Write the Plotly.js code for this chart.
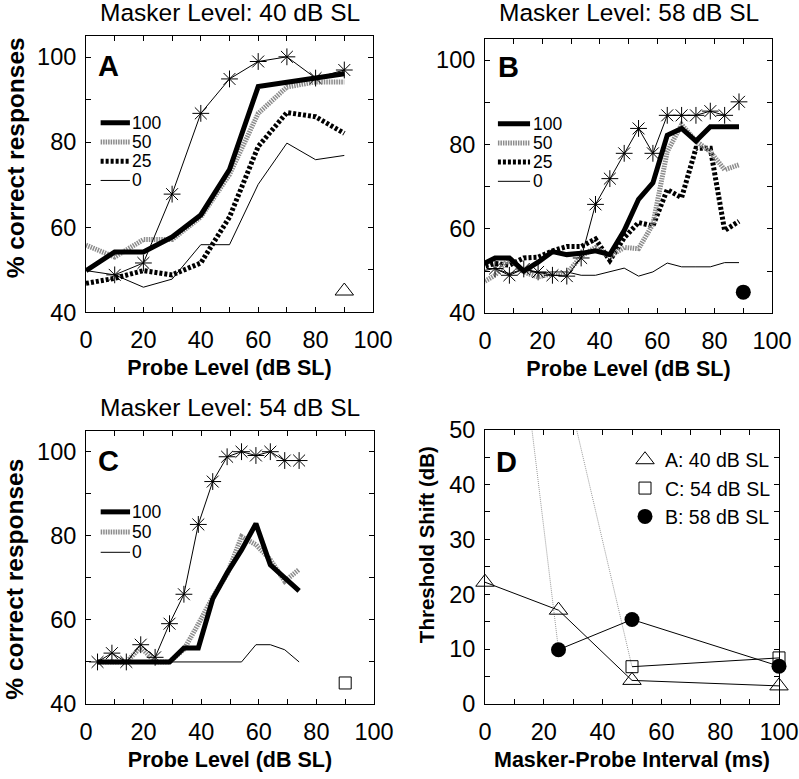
<!DOCTYPE html>
<html><head><meta charset="utf-8">
<script src="https://cdn.plot.ly/plotly-3.0.1.min.js"></script>
<style>html,body{margin:0;padding:0;background:#fff}#plot{width:799px;height:779px}</style>
</head><body><div id="plot"></div>
<script>
// ---------- DATA ----------
// Panel A (masker 40 dB SL)
const probeA   = [0,10,20,30,40,50,60,70,80,90];
const a100     = [49.8,54.2,54.2,57.7,62.9,73.6,93.1,94.2,95.1,96.1];
const a50      = [55.8,53.0,57.1,57.1,62.4,72.4,86.8,93.0,94.2,94.2];
const a25      = [46.8,48.0,49.8,48.8,51.6,62.4,79.0,87.0,86.0,82.1];
const a0       = [49.8,48.8,45.9,47.8,55.9,55.9,70.1,79.8,75.9,76.9];
const probeAstA= [10,20,30,40,50,60,70,80,90];
const aAst     = [48.8,51.6,67.8,86.8,94.9,99.0,100.1,95.1,97.0];
// Panel B (masker 58 dB SL)
const probeB   = [-1.5,3.5,8.5,13.5,18.5,23.5,28.5,33.5,38.5,43.5,48.5,53.5,58.5,63.5,68.5,73.5,78.5,83.5,88.5];
const b100     = [51.4,53.1,53.1,50.0,52.1,54.6,53.9,54.2,54.8,53.9,59.6,67.0,70.9,82.2,83.8,80.8,84.2,84.2,84.2];
const b50      = [47.0,49.0,53.1,49.8,48.6,49.4,49.4,53.5,55.6,53.5,55.6,55.3,61.1,78.3,84.7,80.8,78.3,74.0,75.2];
const b25      = [51.0,51.8,51.4,53.1,53.3,54.8,55.8,55.8,57.6,52.5,57.9,61.5,60.7,69.3,67.4,79.1,79.1,59.6,61.8];
const b0       = [50.0,50.6,49.4,50.5,49.5,49.8,49.8,49.0,49.0,49.8,50.7,48.8,49.8,51.9,51.0,51.0,51.0,52.0,52.0];
const probeAstB= [3.5,8.5,13.5,18.5,23.5,28.5,33.5,38.5,43.5,48.5,53.5,58.5,63.5,68.5,73.5,78.5,83.5,88.5];
const bAst     = [50.6,49.0,50.5,49.8,49.0,48.8,53.1,65.8,71.9,77.9,83.8,77.9,86.9,86.9,86.9,87.9,86.9,90.1];
// Panel C (masker 54 dB SL)
const probeC   = [4,9,14,19,24,29,34,39,44,49,54,59,64,69,74];
const c100     = [50,50,50,50,50,50,53.3,53.3,65.0,71.2,76.6,82.9,73.1,70.0,66.9];
const c50      = [50,50,50,53.5,50,50,53,59,65.4,70.9,79.8,77.9,74.3,69.2,72.0];
const c0       = [50,50,50,50,50,50,50,50,50,50,50,54.1,54.1,52.9,50];
const cAst     = [50.0,52.1,50.0,54.1,51.1,59.1,66.1,82.7,92.9,98.8,100,99.1,100,97.9,97.9];
// Panel identifiers (symbol placed in A, B, C)
const idX = [90];
const idY = [45];
// Panel D: threshold shift vs masker-probe interval
const intervalA = [0,25,50,100];
const shiftA    = [22.2,17.1,4.3,3.3];
const intervalB = [25,50,100];
const shiftB    = [9.9,15.4,6.9];
const intervalC = [50,100];
const shiftC    = [6.8,8.4];
// off-scale 0-ms values (dotted connectors)
const dotBx = [0,25];  const dotBy = [121,9.9];
const dotCx = [0,50];  const dotCy = [121.5,6.8];
const legendLabels = ['100','50','25','0'];
const dLegend = ['A: 40 dB SL','C: 54 dB SL','B: 58 dB SL'];

// ---------- STYLE / LAYOUT ----------
const FONT = 'Arial, "Liberation Sans", sans-serif';
const M = {l:86, r:20, t:36, b:66};
const W = 799, H = 779;
const PW = W - M.l - M.r, PH = H - M.t - M.b;
const dx = px => (px - M.l) / PW;
const dy = py => 1 - (py - M.t) / PH;

const S = {
  s100: {color:'black', width:5},
  s50:  {color:'#8c8c8c', width:5, dash:'1.5px,1px'},
  s25:  {color:'black', width:5, dash:'3px,2px'},
  s0:   {color:'black', width:1}
};
const astMarker = {symbol:'asterisk-open', size:14, color:'black', line:{color:'black', width:1}};

function line(x, y, ax, st, name) {
  return {x, y, xaxis:'x'+ax, yaxis:'y'+ax, mode:'lines', line:st, name, showlegend:false, hoverinfo:'skip'};
}
function ast(x, y, ax) {
  return {x, y, xaxis:'x'+ax, yaxis:'y'+ax, mode:'lines+markers', line:{color:'black', width:1}, marker:astMarker, showlegend:false, hoverinfo:'skip'};
}
function ident(ax, marker) {
  return {x:idX, y:idY, xaxis:'x'+ax, yaxis:'y'+ax, mode:'markers', marker, showlegend:false, cliponaxis:false, hoverinfo:'skip'};
}
const triM = {symbol:'triangle-up-open', size:16, color:'black', line:{color:'black', width:1}};
const sqM  = {symbol:'square-open', size:12, color:'black', line:{color:'black', width:1}};
const ciM  = {symbol:'circle', size:15, color:'black', line:{color:'black', width:0}};
const dotLine = {color:'#9a9a9a', width:1, dash:'1px,1px'};

const data = [
  line(probeA, a0, '', S.s0, '0'), line(probeA, a25, '', S.s25, '25'), line(probeA, a50, '', S.s50, '50'), line(probeA, a100, '', S.s100, '100'),
  ast(probeAstA, aAst, ''), ident('', triM),
  line(probeB, b0, '2', S.s0, '0'), line(probeB, b25, '2', S.s25, '25'), line(probeB, b50, '2', S.s50, '50'), line(probeB, b100, '2', S.s100, '100'),
  ast(probeAstB, bAst, '2'), ident('2', ciM),
  line(probeC, c0, '3', S.s0, '0'), line(probeC, c50, '3', S.s50, '50'), line(probeC, c100, '3', S.s100, '100'),
  ast(probeC, cAst, '3'), ident('3', sqM),
  {x:dotBx, y:dotBy, xaxis:'x4', yaxis:'y4', mode:'lines', line:dotLine, showlegend:false, hoverinfo:'skip'},
  {x:dotCx, y:dotCy, xaxis:'x4', yaxis:'y4', mode:'lines', line:dotLine, showlegend:false, hoverinfo:'skip'},
  {x:intervalA, y:shiftA, xaxis:'x4', yaxis:'y4', mode:'lines', line:{color:'black', width:1}, showlegend:false, hoverinfo:'skip'},
  {x:intervalC, y:shiftC, xaxis:'x4', yaxis:'y4', mode:'lines', line:{color:'black', width:1}, showlegend:false, hoverinfo:'skip'},
  {x:intervalB, y:shiftB, xaxis:'x4', yaxis:'y4', mode:'lines', line:{color:'black', width:1}, showlegend:false, hoverinfo:'skip'},
  {x:intervalA, y:shiftA, xaxis:'x4', yaxis:'y4', mode:'markers', marker:triM, name:dLegend[0], cliponaxis:false, hoverinfo:'skip'},
  {x:intervalC, y:shiftC, xaxis:'x4', yaxis:'y4', mode:'markers', marker:sqM, name:dLegend[1], cliponaxis:false, hoverinfo:'skip'},
  {x:intervalB, y:shiftB, xaxis:'x4', yaxis:'y4', mode:'markers', marker:ciM, name:dLegend[2], cliponaxis:false, hoverinfo:'skip'}
];

const tickFont = {family:FONT, size:23.5, color:'black'};
const titleFont = {family:FONT, size:21.5, color:'black', weight:'bold'};
const xt = {tickvals:[0,10,20,30,40,50,60,70,80,90,100], ticktext:['0','','20','','40','','60','','80','','100']};
const yt = {tickvals:[40,50,60,70,80,90,100], ticktext:['40','','60','','80','','100']};
const ytD = {tickvals:[0,5,10,15,20,25,30,35,40,45,50], ticktext:['0','','10','','20','','30','','40','','50']};
const base = {showline:true, mirror:'ticks', linecolor:'black', linewidth:1, ticks:'inside', ticklen:5, tickcolor:'black',
  showgrid:false, zeroline:false, tickfont:tickFont, fixedrange:true, tickmode:'array'};
function xa(dom, anchor, title) {
  return Object.assign({}, base, xt, {domain:dom, anchor, range:[0,100], ticklabelstandoff:7, automargin:'height',
    title:{text:title, font:titleFont, standoff:7}});
}
function ya(dom, anchor, ticks, range) {
  return Object.assign({}, base, ticks, {domain:dom, anchor, range, ticklabelstandoff:4, automargin:false, title:{text:''}});
}

const shapes = [], annotations = [];
function legendABC(ax, x0, x1, xt0, ytop, step, keys) {
  keys.forEach((k, i) => {
    const yy = ytop - i*step;
    shapes.push({type:'line', xref:'x'+ax+' domain', yref:'y'+ax+' domain', x0, x1, y0:yy, y1:yy, line:S['s'+k]});
    annotations.push({xref:'x'+ax+' domain', yref:'y'+ax+' domain', x:xt0, y:yy, xanchor:'left', yanchor:'middle',
      text:k, showarrow:false, borderpad:0, font:{family:FONT, size:17.5, color:'black'}});
  });
}
legendABC('', 0.051, 0.153, 0.157, 0.686, 0.0696, ['100','50','25','0']);
legendABC('2', 0.045, 0.157, 0.163, 0.691, 0.070, ['100','50','25','0']);
legendABC('3', 0.051, 0.153, 0.157, 0.703, 0.074, ['100','50','0']);

function letter(ax, t, x, y) {
  annotations.push({xref:'x'+ax+' domain', yref:'y'+ax+' domain', x, y, xanchor:'left', yanchor:'middle', text:t,
    showarrow:false, font:{family:FONT, size:29, color:'black', weight:'bold'}});
}
letter('', 'A', 0.036, 0.891); letter('2', 'B', 0.040, 0.896); letter('3', 'C', 0.036, 0.888); letter('4', 'D', 0.031, 0.881);

function ptitle(text, xc, yc) {
  annotations.push({xref:'paper', yref:'paper', x:dx(xc), y:dy(yc), xanchor:'center', yanchor:'middle', text,
    showarrow:false, font:{family:FONT, size:24.5, color:'black'}});
}
ptitle('Masker Level: 40 dB SL', 229.5, 12);
ptitle('Masker Level: 58 dB SL', 628.5, 12.5);
ptitle('Masker Level: 54 dB SL', 230, 412);

// y-axis titles (placed as in the reference, not centred on the axes)
function ytitle(text, xc, yc, size) {
  annotations.push({xref:'paper', yref:'paper', x:dx(xc), y:dy(yc), xanchor:'center', yanchor:'middle', text,
    textangle:-90, showarrow:false, font:{family:FONT, size, color:'black', weight:'bold'}});
}
ytitle('% correct responses', 15, 160, 24.5);
ytitle('% correct responses', 15, 587, 24.5);
ytitle('Threshold Shift (dB)', 426, 552, 20.5);

const layout = {
  width:W, height:H, margin:M, paper_bgcolor:'white', plot_bgcolor:'white',
  font:{family:FONT, color:'black'},
  xaxis:  xa([dx(86), dx(373)], 'y', 'Probe Level (dB SL)'),
  yaxis:  ya([dy(316), dy(36)], 'x', yt, [40,105]),
  xaxis2: xa([dx(485), dx(772)], 'y2', 'Probe Level (dB SL)'),
  yaxis2: ya([dy(317), dy(39)], 'x2', yt, [40,105]),
  xaxis3: xa([dx(86), dx(374)], 'y3', 'Probe Level (dB SL)'),
  yaxis3: ya([dy(713), dy(436)], 'x3', yt, [40,105]),
  xaxis4: xa([dx(485), dx(779)], 'y4', 'Masker-Probe Interval (ms)'),
  yaxis4: ya([dy(713), dy(435)], 'x4', ytD, [0,50]),
  showlegend:true,
  legend:{x:dx(625), y:dy(446), xanchor:'left', yanchor:'top', bgcolor:'rgba(0,0,0,0)', borderwidth:0,
    font:{family:FONT, size:19.5, color:'black'}, itemwidth:30, tracegroupgap:0, traceorder:'normal'},
  shapes, annotations
};
Plotly.newPlot('plot', data, layout, {staticPlot:true, displayModeBar:false});
</script></body></html>
